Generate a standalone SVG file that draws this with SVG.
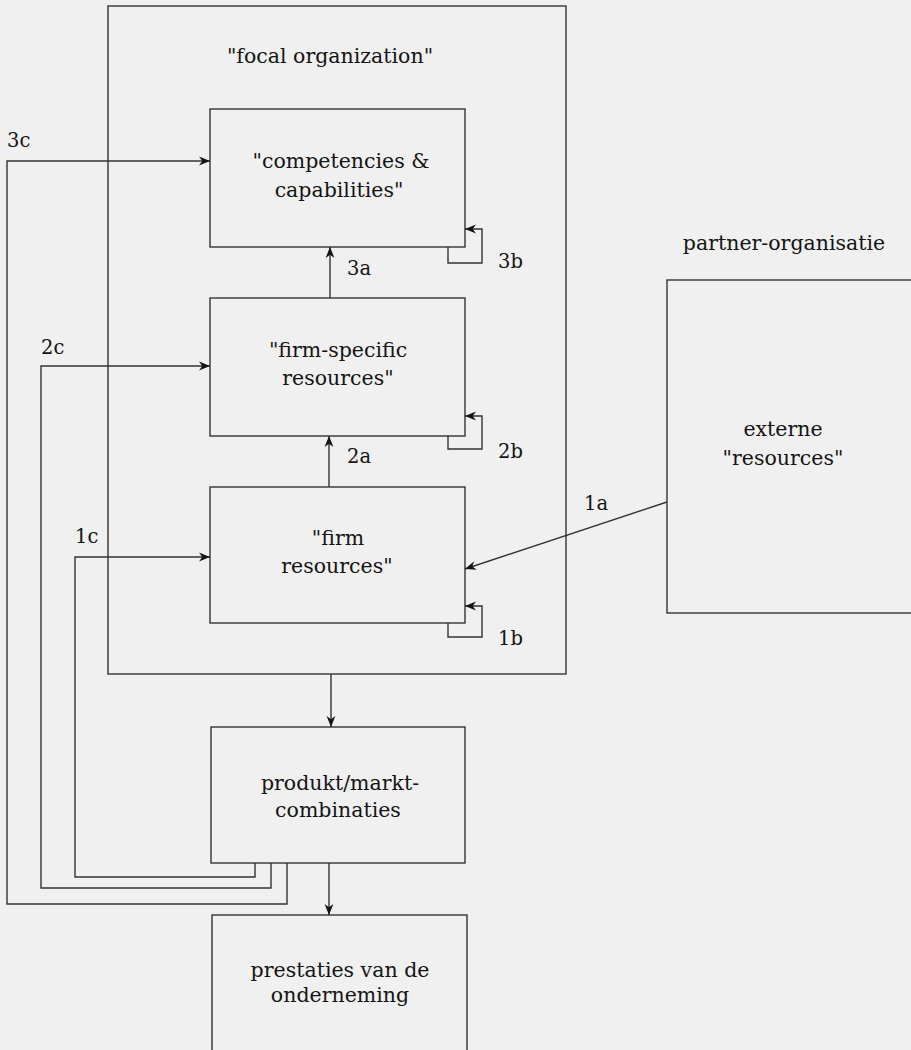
<svg xmlns="http://www.w3.org/2000/svg" width="911" height="1050" viewBox="0 0 911 1050">
  <style>
    .box { fill: none; stroke: #333333; stroke-width: 1.4; }
    .wire { fill: none; stroke: #333333; stroke-width: 1.4; }
    .txt { font-family: "DejaVu Serif", "Liberation Serif", serif; font-size: 20.5px; fill: #141414; text-anchor: middle; }
    .lbl { font-family: "DejaVu Serif", "Liberation Serif", serif; font-size: 19.5px; fill: #141414; }
  </style>
  <defs>
    <marker id="arrow" viewBox="0 0 10 8" refX="10" refY="4" markerWidth="11" markerHeight="10" markerUnits="userSpaceOnUse" orient="auto">
      <path d="M0,0 L10,4 L0,8 L3,4 Z" fill="#141414"/>
    </marker>
  </defs>

  <rect width="911" height="1050" fill="#f0f0f0"/>

  <g id="focal-organization">
    <rect class="box" x="108" y="6" width="458" height="668"/>
    <text class="txt" x="330" y="63">"focal organization"</text>
  </g>

  <g id="competencies">
    <rect class="box" x="210" y="109" width="255" height="138"/>
    <text class="txt" x="341" y="168">"competencies &amp;</text>
    <text class="txt" x="339" y="197">capabilities"</text>
  </g>

  <g id="firm-specific-resources">
    <rect class="box" x="210" y="298" width="255" height="138"/>
    <text class="txt" x="338" y="357">"firm-specific</text>
    <text class="txt" x="338" y="385">resources"</text>
  </g>

  <g id="firm-resources">
    <rect class="box" x="210" y="487" width="255" height="136"/>
    <text class="txt" x="338" y="545">"firm</text>
    <text class="txt" x="337" y="573">resources"</text>
  </g>

  <g id="partner-organisatie">
    <text class="txt" x="784" y="250">partner-organisatie</text>
    <rect class="box" x="667" y="280" width="260" height="333"/>
    <text class="txt" x="783" y="436">externe</text>
    <text class="txt" x="783" y="465">"resources"</text>
  </g>

  <g id="produkt-markt">
    <rect class="box" x="211" y="727" width="254" height="136"/>
    <text class="txt" x="340" y="790">produkt/markt-</text>
    <text class="txt" x="338" y="817">combinaties</text>
  </g>

  <g id="prestaties">
    <rect class="box" x="212" y="915" width="255" height="145"/>
    <text class="txt" x="340" y="977">prestaties van de</text>
    <text class="txt" x="340" y="1002">onderneming</text>
  </g>

  <g id="connectors">
    <!-- upward flows between the internal layers -->
    <path class="wire" d="M330,298 V247" marker-end="url(#arrow)"/>
    <path class="wire" d="M329,487 V436" marker-end="url(#arrow)"/>
    <!-- self-reinforcing loops -->
    <path class="wire" d="M448,247 V263 H482 V229 H465" marker-end="url(#arrow)"/>
    <path class="wire" d="M448,436 V449 H482 V416 H465" marker-end="url(#arrow)"/>
    <path class="wire" d="M448,623 V637 H482 V606 H465" marker-end="url(#arrow)"/>
    <!-- external resources into the firm -->
    <path class="wire" d="M667,502 L465,569" marker-end="url(#arrow)"/>
    <!-- downward flows -->
    <path class="wire" d="M331,674 V727" marker-end="url(#arrow)"/>
    <path class="wire" d="M329,863 V915" marker-end="url(#arrow)"/>
    <!-- feedback from product/market combinations -->
    <path class="wire" d="M287,863 V904 H7 V161 H210" marker-end="url(#arrow)"/>
    <path class="wire" d="M271,863 V888 H41 V366 H210" marker-end="url(#arrow)"/>
    <path class="wire" d="M255,863 V877 H75 V557 H210" marker-end="url(#arrow)"/>

    <text class="lbl" x="7" y="147">3c</text>
    <text class="lbl" x="41" y="354">2c</text>
    <text class="lbl" x="75" y="543">1c</text>
    <text class="lbl" x="347" y="275">3a</text>
    <text class="lbl" x="347" y="463">2a</text>
    <text class="lbl" x="498" y="268">3b</text>
    <text class="lbl" x="498" y="458">2b</text>
    <text class="lbl" x="498" y="645">1b</text>
    <text class="lbl" x="584" y="510">1a</text>
  </g>
</svg>
